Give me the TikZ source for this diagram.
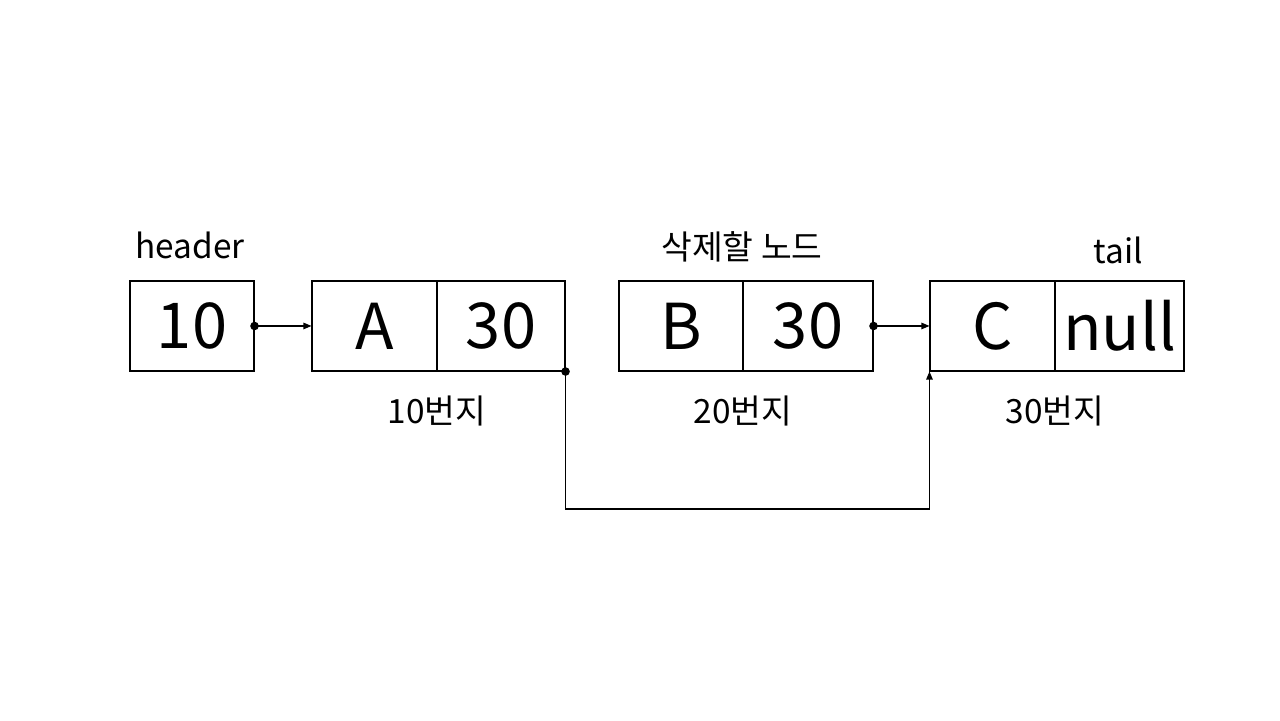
\documentclass[tikz,border=0pt]{standalone}
\usepackage{fontspec}
\setmainfont{Noto Sans CJK KR}
\usetikzlibrary{arrows.meta}

\begin{document}
\begin{tikzpicture}[line width=0.6pt,
  cell/.style={draw, inner sep=0pt, minimum height=1.8cm, font=\fontsize{36}{40}\selectfont},
  addr/.style={font=\fontsize{19}{23}\selectfont},
  link/.style={{Circle[length=1.7mm]}-{Triangle[length=1.6mm,width=1.3mm]}, shorten <=-0.85mm}]
\useasboundingbox (0,0) rectangle (25.6,14.4);

\node[cell,minimum width=2.48cm] (h) at (3.84, 7.88) {10};

\node[cell,minimum width=2.5cm] (a1) at (7.49, 7.88) {A};
\node[cell,minimum width=2.56cm] (a2) at (10.02, 7.88) {30};

\node[cell,minimum width=2.48cm] (b1) at (13.62, 7.88) {B};
\node[cell,minimum width=2.6cm] (b2) at (16.16, 7.88) {30};

\node[cell,minimum width=2.5cm] (c1) at (19.85, 7.88) {C};
\node[cell,minimum width=2.58cm] (c2) at (22.39, 7.88) {null};

% Labels
\node[addr] (lh) at (3.8, 9.5) {header};
\node[addr] (lb) at (14.84, 9.46) {삭제할 노드};
\node[addr] (lt) at (22.36, 9.4) {tail};

\node[addr] (la) at (8.74, 6.18) {10번지};
\node[addr] (lb2) at (14.86, 6.18) {20번지};
\node[addr] (lc) at (21.1, 6.18) {30번지};

% Links
\draw[link] (h.east) -- (a1.west);
\draw[link] (b2.east) -- (c1.west);

\coordinate (low) at (0, 4.22);
\draw[link] (a2.south east) -- (a2.south east |- low) -| (c1.south west);
\end{tikzpicture}
\end{document}
